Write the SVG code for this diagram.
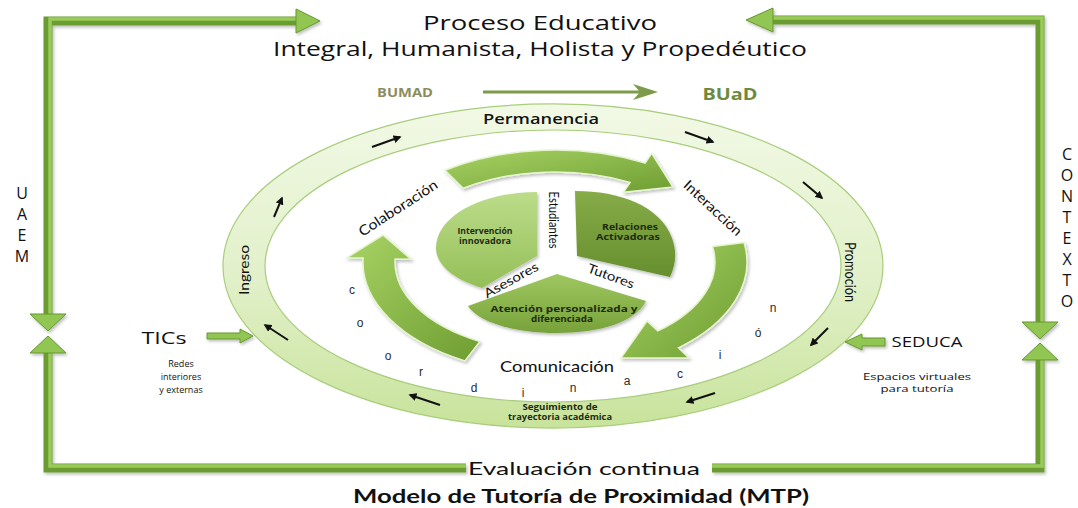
<svg xmlns="http://www.w3.org/2000/svg" width="1078" height="508" viewBox="0 0 1078 508">
<defs>
  <style>
    .os{font-family:"Open Sans","Noto Sans","Liberation Sans",sans-serif;fill:#111}
    .lt{font-family:Lato,"Open Sans","Liberation Sans",sans-serif;fill:#111}
    .sec{font-family:"Open Sans","Noto Sans",sans-serif;font-weight:700;font-size:8px;fill:#1f2a12}
    .ltr{font-family:"Liberation Sans",Arial,sans-serif;font-size:12px;fill:#2b2b2b;text-anchor:middle}
    .side{font-family:"Open Sans","Noto Sans",sans-serif;font-size:16px;fill:#111;text-anchor:middle}
    .bar{fill:none;stroke:#6a9c30;stroke-width:9;stroke-linejoin:miter}
    .barhi{fill:none;stroke:#9acb5a;stroke-width:3.5;stroke-linejoin:miter}
    .head{fill:#92c652;stroke:#66962e;stroke-width:1}
    .blk{stroke:#111;stroke-width:2;fill:none;marker-end:url(#blk)}
    .arr{fill:url(#arrG);stroke:#e6f4cf;stroke-width:1.5}
  </style>
  <linearGradient id="ringG" x1="0" y1="0" x2="0" y2="1">
    <stop offset="0" stop-color="#f2f9e6"/>
    <stop offset="0.55" stop-color="#e1f0c8"/>
    <stop offset="1" stop-color="#c8e39b"/>
  </linearGradient>
  <linearGradient id="arrG" x1="0" y1="0" x2="1" y2="1">
    <stop offset="0" stop-color="#a8d365"/>
    <stop offset="1" stop-color="#6e9d31"/>
  </linearGradient>
  <linearGradient id="secL" x1="0" y1="0" x2="0" y2="1">
    <stop offset="0" stop-color="#bcdc8a"/>
    <stop offset="1" stop-color="#94bf57"/>
  </linearGradient>
  <linearGradient id="secR" x1="0" y1="0" x2="0" y2="1">
    <stop offset="0" stop-color="#86ab48"/>
    <stop offset="1" stop-color="#678f2e"/>
  </linearGradient>
  <linearGradient id="secB" x1="0" y1="0" x2="0" y2="1">
    <stop offset="0" stop-color="#9fc760"/>
    <stop offset="1" stop-color="#77a23a"/>
  </linearGradient>
  <filter id="sh" x="-10%" y="-10%" width="120%" height="130%">
    <feDropShadow dx="1.5" dy="2" stdDeviation="1.5" flood-color="#000" flood-opacity="0.25"/>
  </filter>
  <marker id="blk" viewBox="0 0 10 10" refX="8" refY="5" markerWidth="4" markerHeight="4" orient="auto">
    <path d="M0,0 L10,5 L0,10 Z" fill="#111"/>
  </marker>
</defs>

<rect width="1078" height="508" fill="#ffffff"/>

<!-- Titles -->
<g id="title">
  <text class="os" x="540" y="30" font-size="20" text-anchor="middle" textLength="234" lengthAdjust="spacingAndGlyphs">Proceso Educativo</text>
  <text class="os" x="540" y="56" font-size="20" text-anchor="middle" textLength="534" lengthAdjust="spacingAndGlyphs">Integral, Humanista, Holista y Propedéutico</text>
</g>

<!-- Outer ring -->
<g id="ring">
  <path d="M223,266 A330,162 0 1 0 883,266 A330,162 0 1 0 223,266 Z M265,266 A288,136 0 1 0 841,266 A288,136 0 1 0 265,266 Z" fill="url(#ringG)" fill-rule="evenodd" stroke="#a9cd7d" stroke-width="1.2"/>
  <text class="os" x="541" y="124" font-size="14" font-weight="600" text-anchor="middle" textLength="116" lengthAdjust="spacingAndGlyphs">Permanencia</text>
  <text class="lt" font-size="14" text-anchor="middle" dy="0.35em" transform="translate(244,270) rotate(-90)" textLength="50" lengthAdjust="spacingAndGlyphs">Ingreso</text>
  <text class="lt" font-size="15" text-anchor="middle" dy="0.35em" transform="translate(850,272) rotate(90)" textLength="60" lengthAdjust="spacingAndGlyphs">Promoción</text>
  <text class="sec" x="560" y="410" text-anchor="middle" textLength="75" lengthAdjust="spacingAndGlyphs">Seguimiento de</text>
  <text class="sec" x="560" y="420" text-anchor="middle" textLength="104" lengthAdjust="spacingAndGlyphs">trayectoria académica</text>
</g>

<!-- Coordinación letters -->
<g id="coordinacion">
  <text class="ltr" x="352" y="294">c</text>
  <text class="ltr" x="360" y="327">o</text>
  <text class="ltr" x="388" y="360">o</text>
  <text class="ltr" x="421" y="376">r</text>
  <text class="ltr" x="474" y="392">d</text>
  <text class="ltr" x="523" y="397">i</text>
  <text class="ltr" x="573" y="392">n</text>
  <text class="ltr" x="627" y="385">a</text>
  <text class="ltr" x="680" y="378">c</text>
  <text class="ltr" x="720" y="359">i</text>
  <text class="ltr" x="758" y="337">ó</text>
  <text class="ltr" x="773" y="312">n</text>
</g>

<!-- Inner circular arrows -->
<g id="cycle" filter="url(#sh)">
  <path class="arr" d="M444.9,170.3 A192,112 0 0 1 645.1,163.1 L651.7,153.4 L672.8,186.9 L623.5,192.3 L630.1,182.5 A160,90 0 0 0 463.2,188.3 Z"/>
  <path class="arr" d="M744.1,242.6 A192,112 0 0 1 678.4,347.8 L689,358 L620.9,358 L647,321 L657.8,330.9 A160,90 0 0 0 712.6,246.4 Z"/>
  <path class="arr" d="M464.9,360.9 A192,112 0 0 1 363.1,258.1 L347,257.7 L383,235 L411,259.2 L395.1,258.9 A160,90 0 0 0 479.9,341.5 Z"/>
</g>
<g id="cycle-labels">
  <text class="lt" font-size="14" text-anchor="middle" dy="0.35em" transform="translate(398,208) rotate(-33)" textLength="91" lengthAdjust="spacingAndGlyphs">Colaboración</text>
  <text class="lt" font-size="14" text-anchor="middle" dy="0.35em" transform="translate(713,208) rotate(43)" textLength="74" lengthAdjust="spacingAndGlyphs">Interacción</text>
  <text class="lt" x="557" y="372" font-size="16" text-anchor="middle" textLength="114" lengthAdjust="spacingAndGlyphs">Comunicación</text>
</g>

<!-- Center pie -->
<g id="pie" filter="url(#sh)">
  <path id="sector-left" d="M537,192 C482,192 436,216 436,248 C436,264 452,279 482,288 L537,256 Z" fill="url(#secL)"/>
  <path id="sector-right" d="M575,191 C620,191 660,206 672,238 C677,252 676,264 670,277 L577,256 Z" fill="url(#secR)"/>
  <path id="sector-bottom" d="M468,306 L557,274 L646,301 C636,322 600,333 557,333 C514,333 478,322 468,306 Z" fill="url(#secB)"/>
</g>
<g id="pie-labels">
  <text class="sec" x="485" y="234" text-anchor="middle" textLength="55" lengthAdjust="spacingAndGlyphs">Intervención</text>
  <text class="sec" x="485" y="244" text-anchor="middle" textLength="52" lengthAdjust="spacingAndGlyphs">innovadora</text>
  <text class="sec" x="630" y="230" text-anchor="middle" textLength="56" lengthAdjust="spacingAndGlyphs">Relaciones</text>
  <text class="sec" x="628" y="240" text-anchor="middle" textLength="64" lengthAdjust="spacingAndGlyphs">Activadoras</text>
  <text class="sec" x="564" y="312" text-anchor="middle" textLength="147" lengthAdjust="spacingAndGlyphs">Atención personalizada y</text>
  <text class="sec" x="562" y="322" text-anchor="middle" textLength="62" lengthAdjust="spacingAndGlyphs">diferenciada</text>
  <text class="lt" font-size="13" text-anchor="middle" dy="0.35em" transform="translate(554,220) rotate(90)" textLength="57" lengthAdjust="spacingAndGlyphs">Estudiantes</text>
  <text class="lt" font-size="13" text-anchor="middle" dy="0.35em" transform="translate(511,280) rotate(-29)" textLength="60" lengthAdjust="spacingAndGlyphs">Asesores</text>
  <text class="lt" font-size="13" text-anchor="middle" dy="0.35em" transform="translate(611,276) rotate(20)" textLength="49" lengthAdjust="spacingAndGlyphs">Tutores</text>
</g>

<!-- Side labels -->
<g id="uaem">
  <text class="side" x="22" y="199">U</text>
  <text class="side" x="22" y="220">A</text>
  <text class="side" x="22" y="241">E</text>
  <text class="side" x="22" y="262">M</text>
</g>
<g id="contexto">
  <text class="side" x="1067" y="160">C</text>
  <text class="side" x="1067" y="181">O</text>
  <text class="side" x="1067" y="202">N</text>
  <text class="side" x="1067" y="223">T</text>
  <text class="side" x="1067" y="244">E</text>
  <text class="side" x="1067" y="265">X</text>
  <text class="side" x="1067" y="286">T</text>
  <text class="side" x="1067" y="307">O</text>
</g>
<g id="bumad">
  <text x="405" y="97" font-family="'Open Sans','Noto Sans',sans-serif" font-weight="700" font-size="12" fill="#8c8d5c" text-anchor="middle" textLength="56" lengthAdjust="spacingAndGlyphs">BUMAD</text>
</g>
<g id="buad">
  <text x="730" y="100" font-family="'Open Sans','Noto Sans',sans-serif" font-weight="700" font-size="16" fill="#6e8b3d" text-anchor="middle" textLength="55" lengthAdjust="spacingAndGlyphs">BUaD</text>
</g>
<g id="tics">
  <text class="os" x="164" y="344" font-size="16" text-anchor="middle" textLength="45" lengthAdjust="spacingAndGlyphs">TICs</text>
  <text class="os" x="181" y="367" font-size="9" text-anchor="middle" fill="#333">Redes</text>
  <text class="os" x="181" y="380" font-size="9" text-anchor="middle" fill="#333">interiores</text>
  <text class="os" x="181" y="393" font-size="9" text-anchor="middle" fill="#333">y externas</text>
</g>
<g id="seduca">
  <text class="os" x="927" y="347" font-size="14" text-anchor="middle" textLength="71" lengthAdjust="spacingAndGlyphs">SEDUCA</text>
  <text class="os" x="917" y="380" font-size="9.5" text-anchor="middle" fill="#333" textLength="108" lengthAdjust="spacingAndGlyphs">Espacios virtuales</text>
  <text class="os" x="917" y="392" font-size="9.5" text-anchor="middle" fill="#333" textLength="73" lengthAdjust="spacingAndGlyphs">para tutoría</text>
</g>
<g id="bottom-labels">
  <text class="lt" x="584" y="475" font-size="18" text-anchor="middle" textLength="232" lengthAdjust="spacingAndGlyphs">Evaluación continua</text>
  <text class="lt" x="581" y="503" font-size="18" font-weight="700" text-anchor="middle" textLength="456" lengthAdjust="spacingAndGlyphs">Modelo de Tutoría de Proximidad (MTP)</text>
</g>

<!-- Connectors -->
<g id="connectors">
  <g id="frame" filter="url(#sh)">
    <path class="bar" d="M48,314 L48,21 L298,21"/>
    <path class="barhi" d="M50,314 L50,19 L298,19"/>
    <polygon class="head" points="296,9 320,21 296,33"/>
    <polygon class="head" points="30,314 66,314 48,331"/>

    <path class="bar" d="M771,20 L1040,20 L1040,322"/>
    <path class="barhi" d="M771,18 L1042,18 L1042,322"/>
    <polygon class="head" points="773,8 746,20 773,32"/>
    <polygon class="head" points="1022,322 1058,322 1040,339"/>

    <path class="bar" d="M48,353 L48,468 L466,468"/>
    <path class="barhi" d="M50,353 L50,466 L466,466"/>
    <polygon class="head" points="48,336 66,353 30,353"/>

    <path class="bar" d="M712,468 L1040,468 L1040,360"/>
    <path class="barhi" d="M712,466 L1042,466 L1042,360"/>
    <polygon class="head" points="1040,343 1058,360 1022,360"/>
  </g>
  <g id="bumad-arrow">
    <line x1="483" y1="92" x2="642" y2="92" stroke="#7d9b4b" stroke-width="3"/>
    <polygon points="658,92 633,84 640,92 633,100" fill="#7d9b4b"/>
  </g>
  <g id="tics-arrow" filter="url(#sh)">
    <polygon class="head" points="207,333 240,333 240,329 253,336 240,343 240,339 207,339"/>
  </g>
  <g id="seduca-arrow" filter="url(#sh)">
    <polygon class="head" points="885,338 862,338 862,334 845,342 862,350 862,346 885,346"/>
  </g>
  <g id="ring-arrows">
    <line class="blk" x1="372" y1="147" x2="400" y2="137"/>
    <line class="blk" x1="274" y1="217" x2="282" y2="198"/>
    <line class="blk" x1="685" y1="132" x2="713" y2="142"/>
    <line class="blk" x1="803" y1="182" x2="822" y2="198"/>
    <line class="blk" x1="828" y1="328" x2="811" y2="345"/>
    <line class="blk" x1="715" y1="393" x2="687" y2="402"/>
    <line class="blk" x1="440" y1="405" x2="410" y2="395"/>
    <line class="blk" x1="288" y1="340" x2="265" y2="325"/>
  </g>
</g>
</svg>
